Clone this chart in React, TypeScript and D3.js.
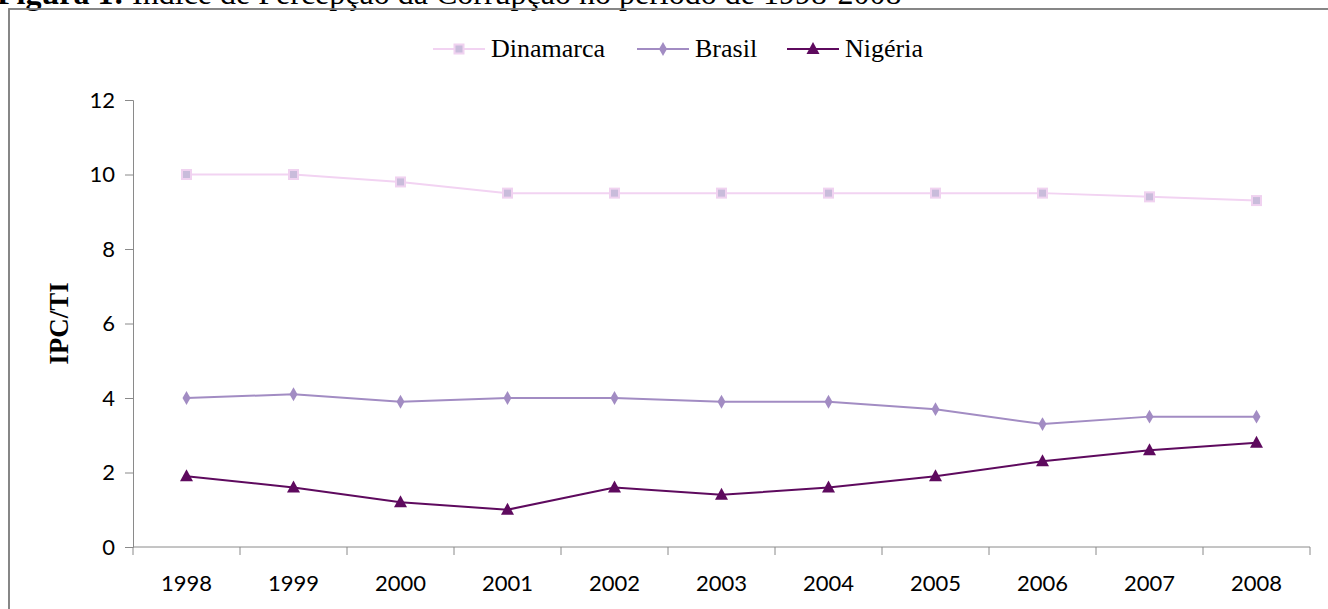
import { useEffect, useRef } from "react";
import * as d3 from "d3";

const years = ["1998", "1999", "2000", "2001", "2002", "2003", "2004", "2005", "2006", "2007", "2008"];
const dinamarca = [10, 10, 9.8, 9.5, 9.5, 9.5, 9.5, 9.5, 9.5, 9.4, 9.3];
const brasil = [4.0, 4.1, 3.9, 4.0, 4.0, 3.9, 3.9, 3.7, 3.3, 3.5, 3.5];
const nigeria = [1.9, 1.6, 1.2, 1.0, 1.6, 1.4, 1.6, 1.9, 2.3, 2.6, 2.8];
const yTicks = [0, 2, 4, 6, 8, 10, 12];

const series = [
  { name: "Dinamarca", values: dinamarca, line: "#F2D3F2", fill: "#C9BCDB", stroke: "#F0D2F0", shape: "square" },
  { name: "Brasil", values: brasil, line: "#A28CC3", fill: "#A28CC3", stroke: "#A28CC3", shape: "diamond" },
  { name: "Nigéria", values: nigeria, line: "#5E0A5E", fill: "#5E0A5E", stroke: "#5E0A5E", shape: "triangle" },
];

const W = 1328;
const H = 609;

export default function App() {
  const ref = useRef<SVGSVGElement>(null);

  useEffect(() => {
    if (!ref.current) return;
    const svg = d3.select(ref.current);
    svg.selectAll("*").remove();

    const marginLeft = 133;
    const marginRight = 18;
    const top = 100;
    const bottom = 547;

    const x = d3.scaleBand().domain(years).range([marginLeft, W - marginRight]);
    const y = d3.scaleLinear().domain([0, 12]).range([bottom, top]);

    // title (cut off by the top edge, as in the source) and frame
    svg
      .append("text")
      .attr("x", -3)
      .attr("y", 4)
      .attr("font-family", "'Liberation Serif', 'Times New Roman', serif")
      .attr("font-size", 32)
      .attr("fill", "#000")
      .html(
        '<tspan font-weight="bold">Figura 1:</tspan> Índice de Percepção da Corrupção no período de 1998-2008'
      );

    svg
      .append("rect")
      .attr("x", 9)
      .attr("y", 9)
      .attr("width", 1340)
      .attr("height", 640)
      .attr("fill", "none")
      .attr("stroke", "#7a7a7a")
      .attr("stroke-width", 1.8);

    // y axis
    const yAxis = svg
      .append("g")
      .attr("transform", `translate(${marginLeft},0)`)
      .call(d3.axisLeft(y).tickValues(yTicks).tickSize(8).tickSizeOuter(8).tickPadding(10));
    yAxis.select(".domain").attr("stroke", "#8a8a8a");
    yAxis.selectAll(".tick line").attr("stroke", "#8a8a8a");
    yAxis
      .selectAll(".tick text")
      .attr("font-family", "Lato, 'Open Sans', sans-serif")
      .attr("font-size", 22)
      .attr("fill", "#000");

    // x axis
    const xAxis = svg.append("g").attr("transform", `translate(0,${bottom})`);
    xAxis
      .append("line")
      .attr("x1", marginLeft)
      .attr("x2", W - marginRight)
      .attr("stroke", "#8a8a8a");
    const edges = [...years.map((yr) => x(yr) as number), W - marginRight];
    xAxis
      .selectAll("line.tk")
      .data(edges)
      .join("line")
      .attr("class", "tk")
      .attr("x1", (d) => d)
      .attr("x2", (d) => d)
      .attr("y1", 0)
      .attr("y2", 8)
      .attr("stroke", "#8a8a8a");
    xAxis
      .selectAll("text")
      .data(years)
      .join("text")
      .attr("x", (d) => (x(d) as number) + x.bandwidth() / 2)
      .attr("y", 44)
      .attr("text-anchor", "middle")
      .attr("font-family", "Lato, 'Open Sans', sans-serif")
      .attr("font-size", 22)
      .attr("fill", "#000")
      .text((d) => d);

    // y label
    svg
      .append("text")
      .attr("transform", `translate(68,${(top + bottom) / 2}) rotate(-90)`)
      .attr("text-anchor", "middle")
      .attr("font-family", "'Liberation Serif', 'Times New Roman', serif")
      .attr("font-weight", "bold")
      .attr("font-size", 27)
      .text("IPC/TI");

    const cx = (i: number) => (x(years[i]) as number) + x.bandwidth() / 2;
    const line = d3
      .line<number>()
      .x((_, i) => cx(i))
      .y((d) => y(d));

    const drawMarker = (g: any, s: any, px: number, py: number) => {
      if (s.shape === "square") {
        g.append("rect")
          .attr("x", px - 4.5)
          .attr("y", py - 4.5)
          .attr("width", 9)
          .attr("height", 9)
          .attr("fill", s.fill)
          .attr("stroke", s.stroke)
          .attr("stroke-width", 2);
      } else if (s.shape === "diamond") {
        g.append("path")
          .attr("d", d3.symbol(d3.symbolDiamond, 55)())
          .attr("transform", `translate(${px},${py})`)
          .attr("fill", s.fill);
      } else {
        g.append("path")
          .attr("d", `M${px},${py - 7}L${px + 6.5},${py + 5}L${px - 6.5},${py + 5}Z`)
          .attr("fill", s.fill);
      }
    };

    series.forEach((s) => {
      const g = svg.append("g");
      g.append("path")
        .attr("d", line(s.values))
        .attr("fill", "none")
        .attr("stroke", s.line)
        .attr("stroke-width", 2);
      s.values.forEach((v, i) => drawMarker(g, s, cx(i), y(v)));
    });

    // legend
    const legendX = [433, 637, 787];
    series.forEach((s, i) => {
      const g = svg.append("g");
      const lx = legendX[i];
      g.append("line")
        .attr("x1", lx)
        .attr("x2", lx + 52)
        .attr("y1", 49)
        .attr("y2", 49)
        .attr("stroke", s.line)
        .attr("stroke-width", 2);
      drawMarker(g, s, lx + 26, 49);
      g.append("text")
        .attr("x", lx + 58)
        .attr("y", 57)
        .attr("font-family", "'Liberation Serif', 'Times New Roman', serif")
        .attr("font-size", 26)
        .attr("fill", "#000")
        .text(s.name);
    });
  }, []);

  return (
    <svg
      ref={ref}
      width={W}
      height={H}
      style={{ position: "absolute", left: 0, top: 0, background: "#fff" }}
    />
  );
}
